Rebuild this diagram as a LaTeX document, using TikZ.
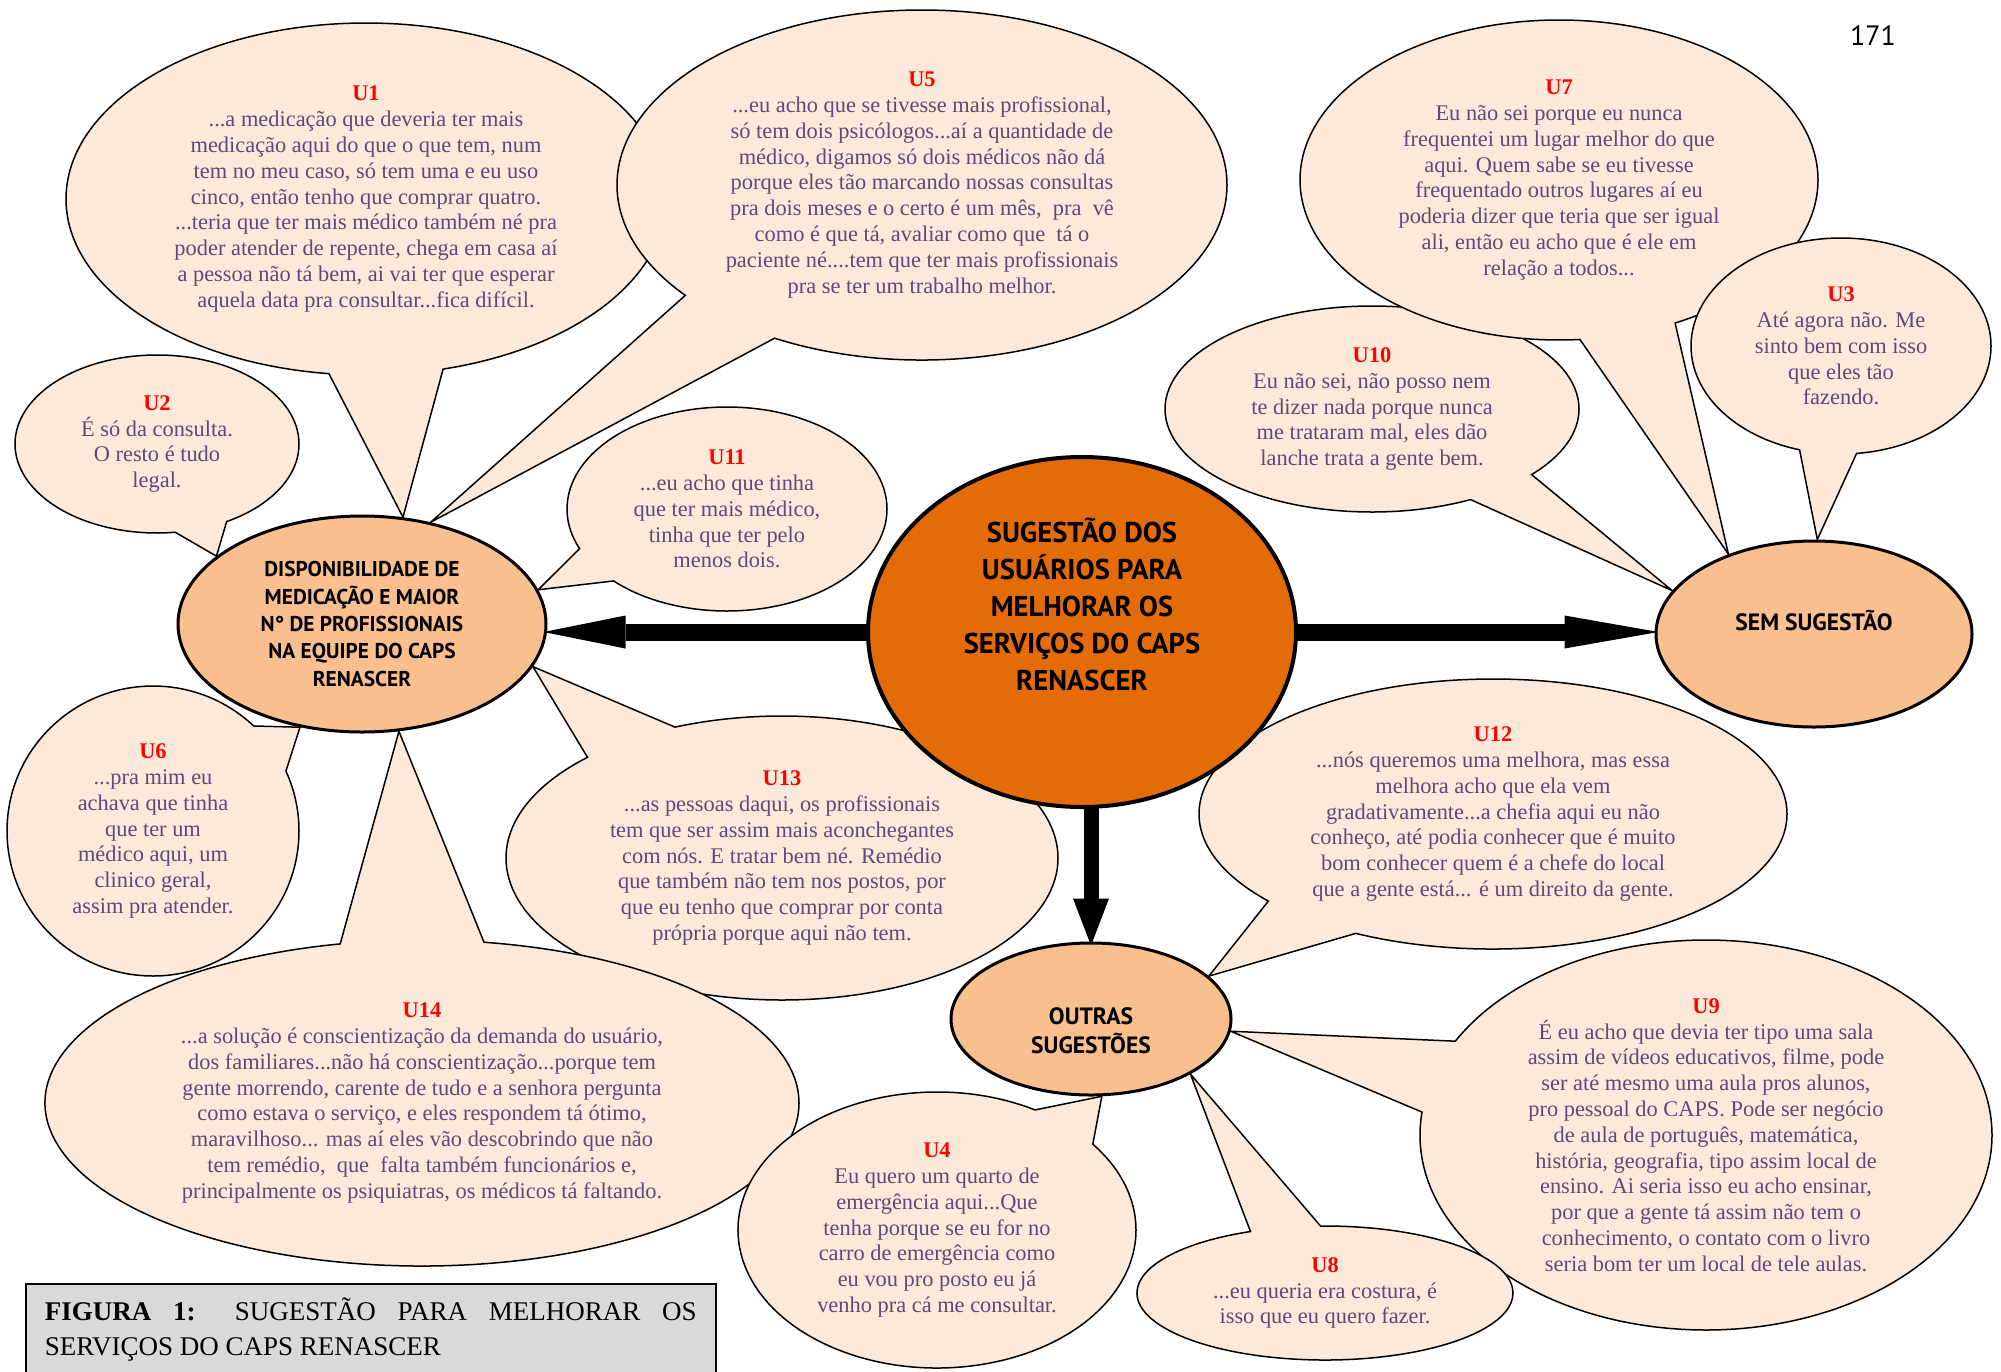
\documentclass[tikz,border=0pt]{standalone}
\usepackage{fontspec}
\setmainfont{Liberation Serif}
\newfontfamily\headfont{PT Sans}
\usetikzlibrary{arrows.meta, positioning}
\usetikzlibrary{shapes.geometric, shapes.callouts}

\definecolor{peach}{HTML}{FDE9D9}
\definecolor{quote}{RGB}{95,73,122}
\definecolor{ured}{RGB}{255,0,0}
\definecolor{darkorange}{HTML}{E36C09}
\definecolor{lightorange}{HTML}{FABF8F}
\definecolor{captiongray}{RGB}{217,217,217}

\pgfdeclarelayer{back}
\pgfsetlayers{back,main}

\begin{document}
\begin{tikzpicture}[
	x=0.5pt, y=-0.5pt,
	bubble/.style={
		ellipse callout,
		draw,
		line width=0.75pt,
		fill=peach,
		inner sep=0pt,
		callout pointer arc=22,
		align=center,
		text=quote,
		font=\fontsize{11.2}{12.9}\selectfont
	},
	topic/.style={
		ellipse,
		draw,
		line width=1.5pt,
		fill=lightorange,
		inner sep=0pt,
		align=center,
		font=\headfont\bfseries\fontsize{10.7}{13.7}\selectfont
	},
	topictitle/.style={
		align=center,
		font=\headfont\bfseries\fontsize{11.8}{14.7}\selectfont
	},
	maintitle/.style={
		align=center,
		font=\headfont\bfseries\fontsize{14.3}{18.5}\selectfont
	},
	bigarrow/.style={
		line width=8.5pt,
		shorten >=-2pt
	},
	caption/.style={
		draw,
		line width=0.8pt,
		fill=captiongray,
		text width=326pt,
		align=justify,
		inner xsep=9.5pt,
		inner ysep=7pt,
		font=\fontsize{13.5}{17.5}\selectfont
	}
	]
	
	\useasboundingbox (0,0) rectangle (2001,1371);
	
	% Nodes
	\node[topic, fill=darkorange, line width=2pt, minimum width=214pt, minimum height=175pt,
		label={[maintitle, yshift=14pt]center:SUGESTÃO DOS\\USUÁRIOS PARA\\MELHORAR OS\\SERVIÇOS DO CAPS\\RENASCER}]
		(main) at (1082,632) {};
	
	\node[topic, minimum width=184pt, minimum height=108pt] (disp) at (362,624)
		{DISPONIBILIDADE DE\\MEDICAÇÃO E MAIOR\\N° DE PROFISSIONAIS\\NA EQUIPE DO CAPS\\RENASCER};
	
	\node[topic, minimum width=158pt, minimum height=93pt,
		label={[topictitle, yshift=7pt]center:SEM SUGESTÃO}] (sem) at (1814,634) {};
	
	\node[topic, minimum width=140pt, minimum height=76pt,
		label={[topictitle, yshift=-6pt]center:OUTRAS\\SUGESTÕES}] (outras) at (1091,1019) {};
	
	\node[font=\headfont\fontsize{14}{14}\selectfont] (page) at (1873,36) {171};
	
	\node[caption, anchor=north west] (fig) at (25,1283)
		{\textbf{FIGURA 1:} SUGESTÃO PARA MELHORAR OS\linebreak SERVIÇOS DO CAPS RENASCER};
	
	\begin{pgfonlayer}{back}
		% Speech bubbles, left group
		\node[bubble, minimum width=300pt, minimum height=176pt,
			callout absolute pointer={(disp.69)}] (u1) at (366,199)
			{{\color{ured}\bfseries U1}\\
			...a medicação que deveria ter mais\\
			medicação aqui do que o que tem, num\\
			tem no meu caso, só tem uma e eu uso\\
			cinco, então tenho que comprar quatro.\\
			...teria que ter mais médico também né pra\\
			poder atender de repente, chega em casa aí\\
			a pessoa não tá bem, ai vai ter que esperar\\
			aquela data pra consultar...fica difícil.};
		
		\node[bubble, minimum width=305pt, minimum height=175pt,
			callout absolute pointer={(disp.56)}] (u5) at (922,185)
			{{\color{ured}\bfseries U5}\\
			...eu acho que se tivesse mais profissional,\\
			só tem dois psicólogos...aí a quantidade de\\
			médico, digamos só dois médicos não dá\\
			porque eles tão marcando nossas consultas\\
			pra dois meses e o certo é um mês, \ pra \ vê\\
			como é que tá, avaliar como que \ tá o\\
			paciente né....tem que ter mais profissionais\\
			pra se ter um trabalho melhor.};
		
		\node[bubble, minimum width=142pt, minimum height=89pt,
			callout absolute pointer={(disp.155)}] (u2) at (157,444)
			{{\color{ured}\bfseries U2}\\
			É só da consulta.\\
			O resto é tudo\\
			legal.};
		
		\node[bubble, minimum width=160pt, minimum height=102pt,
			callout absolute pointer={(disp.11)}] (u11) at (727,509)
			{{\color{ured}\bfseries U11}\\
			...eu acho que tinha\\
			que ter mais médico,\\
			tinha que ter pelo\\
			menos dois.};
		
		\node[bubble, minimum width=276pt, minimum height=142pt,
			callout absolute pointer={(disp.346)}] (u13) at (782,858)
			{{\color{ured}\bfseries U13}\\
			...as pessoas daqui, os profissionais\\
			tem que ser assim mais aconchegantes\\
			com nós. E tratar bem né. Remédio\\
			que também não tem nos postos, por\\
			que eu tenho que comprar por conta\\
			própria porque aqui não tem.};
		
		\node[bubble, minimum width=146pt, minimum height=145pt,
			callout absolute pointer={(disp.239)}] (u6) at (153,831)
			{{\color{ured}\bfseries U6}\\
			...pra mim eu\\
			achava que tinha\\
			que ter um\\
			médico aqui, um\\
			clinico geral,\\
			assim pra atender.};
		
		\node[bubble, minimum width=377pt, minimum height=163pt,
			callout absolute pointer={(disp.289)}] (u14) at (422,1103)
			{{\color{ured}\bfseries U14}\\
			...a solução é conscientização da demanda do usuário,\\
			dos familiares...não há conscientização...porque tem\\
			gente morrendo, carente de tudo e a senhora pergunta\\
			como estava o serviço, e eles respondem tá ótimo,\\
			maravilhoso... mas aí eles vão descobrindo que não\\
			tem remédio, \ que \ falta também funcionários e,\\
			principalmente os psiquiatras, os médicos tá faltando.};
		
		% Speech bubbles, lower right group
		\node[bubble, minimum width=199pt, minimum height=138pt,
			callout absolute pointer={(outras.278)}] (u4) at (937,1230)
			{{\color{ured}\bfseries U4}\\
			Eu quero um quarto de\\
			emergência aqui...Que\\
			tenha porque se eu for no\\
			carro de emergência como\\
			eu vou pro posto eu já\\
			venho pra cá me consultar.};
		
		\node[bubble, minimum width=286pt, minimum height=195pt,
			callout absolute pointer={(outras.355)}] (u9) at (1706,1135)
			{{\color{ured}\bfseries U9}\\
			É eu acho que devia ter tipo uma sala\\
			assim de vídeos educativos, filme, pode\\
			ser até mesmo uma aula pros alunos,\\
			pro pessoal do CAPS. Pode ser negócio\\
			de aula de português, matemática,\\
			história, geografia, tipo assim local de\\
			ensino. Ai seria isso eu acho ensinar,\\
			por que a gente tá assim não tem o\\
			conhecimento, o contato com o livro\\
			seria bom ter um local de tele aulas.};
		
		\node[bubble, minimum width=294pt, minimum height=135pt,
			callout absolute pointer={(outras.20)}] (u12) at (1493,814)
			{{\color{ured}\bfseries U12}\\
			...nós queremos uma melhora, mas essa\\
			melhora acho que ela vem\\
			gradativamente...a chefia aqui eu não\\
			conheço, até podia conhecer que é muito\\
			bom conhecer quem é a chefe do local\\
			que a gente está... é um direito da gente.};
		
		\node[bubble, minimum width=188pt, minimum height=67pt,
			callout absolute pointer={(outras.331)}] (u8) at (1325,1293)
			{{\color{ured}\bfseries U8}\\
			...eu queria era costura, é\\
			isso que eu quero fazer.};
		
		% Speech bubbles, upper right group
		\node[bubble, minimum width=207pt, minimum height=103pt,
			callout absolute pointer={(sem.163)}] (u10) at (1372,409)
			{{\color{ured}\bfseries U10}\\
			Eu não sei, não posso nem\\
			te dizer nada porque nunca\\
			me trataram mal, eles dão\\
			lanche trata a gente bem.};
		
		\node[bubble, minimum width=259pt, minimum height=160pt,
			callout absolute pointer={(sem.137)}] (u7) at (1559,180)
			{{\color{ured}\bfseries U7}\\
			Eu não sei porque eu nunca\\
			frequentei um lugar melhor do que\\
			aqui. Quem sabe se eu tivesse\\
			frequentado outros lugares aí eu\\
			poderia dizer que teria que ser igual\\
			ali, então eu acho que é ele em\\
			relação a todos...};
		
		\node[bubble, minimum width=150pt, minimum height=108pt,
			callout absolute pointer={(sem.88)}] (u3) at (1841,346)
			{{\color{ured}\bfseries U3}\\
			Até agora não. Me\\
			sinto bem com isso\\
			que eles tão\\
			fazendo.};
		
		% Arrows
		\draw[bigarrow, -{Triangle[length=41pt, width=16.5pt, line width=0pt]}]
		(main.center) -- (main.center -| disp.east);
		\draw[bigarrow, -{Triangle[length=47pt, width=16.5pt, line width=0pt]}]
		(main.center) -- (main.center -| sem.west);
		\draw[bigarrow, line width=7.5pt, -{Triangle[length=23.5pt, width=18pt, line width=0pt]}]
		(main.center -| outras.north) -- (outras.north);
	\end{pgfonlayer}
	
\end{tikzpicture}
\end{document}
